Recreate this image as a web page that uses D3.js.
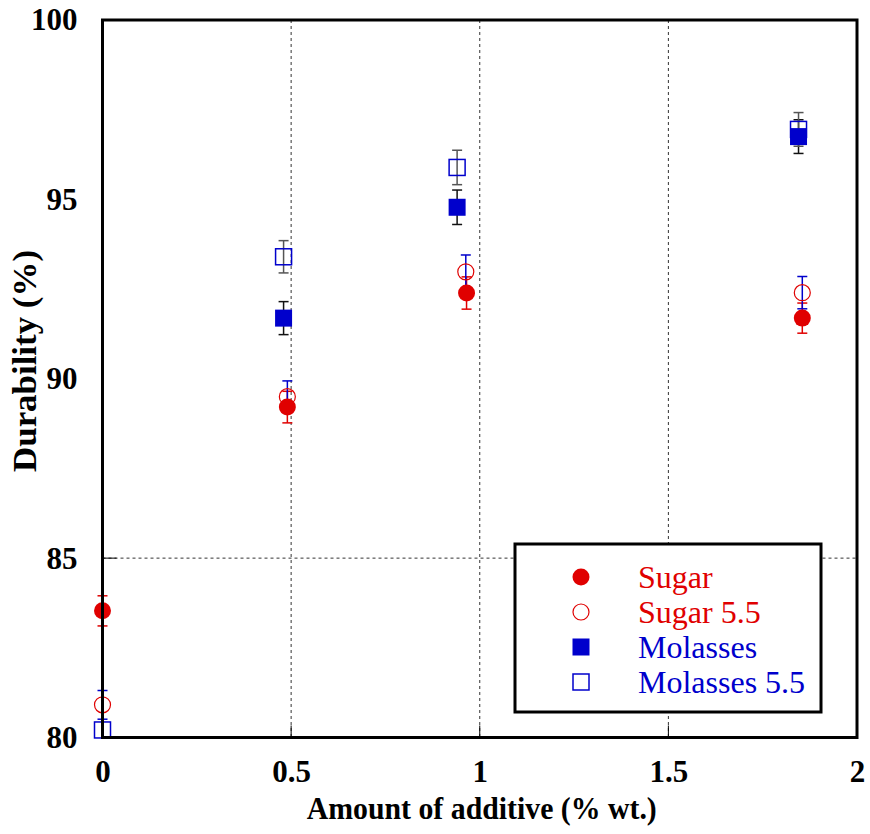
<!DOCTYPE html>
<html><head><meta charset="utf-8">
<script src="https://cdn.jsdelivr.net/npm/d3@7"></script>
<style>body{margin:0;background:#fff}svg{display:block}</style>
</head><body>
<svg id="c" width="870" height="834"></svg>
<script>
// ---- data ----
const sugarX = [0, 0.49, 0.965, 1.855];
const sugarY = [83.53, 89.21, 92.39, 91.69];
const sugarErr = [0.42, 0.44, 0.45, 0.42];

const sugar55X = [0, 0.49, 0.963, 1.855];
const sugar55Y = [80.91, 89.50, 92.98, 92.40];
const sugar55Err = [0.40, 0.44, 0.47, 0.45];

const molassesX = [0.48, 0.94, 1.845];
const molassesY = [91.69, 94.78, 96.75];
const molassesErr = [0.46, 0.48, 0.47];

const molasses55X = [0, 0.48, 0.94, 1.845];
const molasses55Y = [80.21, 93.40, 95.89, 96.95];
const molasses55Err = [null, 0.45, 0.48, 0.47];

const xTicks = [0, 0.5, 1, 1.5, 2];
const xTickLabels = ["0", "0.5", "1", "1.5", "2"];
const yTicks = [80, 85, 90, 95, 100];
const xGrid = [0.5, 1, 1.5];
const yGrid = [85];

const seriesNames = ["Sugar", "Sugar 5.5", "Molasses", "Molasses 5.5"];

// ---- layout ----
const svg = d3.select("#c");
const L = 102.5, R = 857, T = 20, B = 737.5;
const x = d3.scaleLinear().domain([0, 2]).range([L, R]);
const y = d3.scaleLinear().domain([80, 100]).range([B, T]);
const RED = "#e00000", BLUE = "#0000cc";
const FONT = '"Liberation Serif"';

const series = [
  {name: seriesNames[0], xs: sugarX, ys: sugarY, err: sugarErr, shape: "circle", filled: true, color: RED, errColor: RED},
  {name: seriesNames[1], xs: sugar55X, ys: sugar55Y, err: sugar55Err, shape: "circle", filled: false, color: RED, errColor: BLUE},
  {name: seriesNames[2], xs: molassesX, ys: molassesY, err: molassesErr, shape: "square", filled: true, color: BLUE, errColor: "#111"},
  {name: seriesNames[3], xs: molasses55X, ys: molasses55Y, err: molasses55Err, shape: "square", filled: false, color: BLUE, errColor: "#555"}
];

// grid
const g = svg.append("g");
g.selectAll("line.vg").data(xGrid).join("line")
  .attr("x1", d => x(d)).attr("x2", d => x(d)).attr("y1", T).attr("y2", B)
  .attr("stroke", "#333").attr("stroke-width", 1).attr("stroke-dasharray", "3,3");
g.selectAll("line.hg").data(yGrid).join("line")
  .attr("x1", L).attr("x2", R).attr("y1", d => y(d)).attr("y2", d => y(d))
  .attr("stroke", "#333").attr("stroke-width", 1).attr("stroke-dasharray", "3,3");
g.selectAll("line.vt").data(xGrid).join("line")
  .attr("x1", d => x(d)).attr("x2", d => x(d)).attr("y1", B).attr("y2", B - 12)
  .attr("stroke", "#000").attr("stroke-width", 1);
g.selectAll("line.ht").data(yGrid).join("line")
  .attr("x1", L).attr("x2", L + 14).attr("y1", d => y(d)).attr("y2", d => y(d))
  .attr("stroke", "#000").attr("stroke-width", 1);

// axes labels
svg.append("g").attr("transform", `translate(0,${B})`)
  .call(d3.axisBottom(x).tickValues(xTicks).tickFormat((d, i) => xTickLabels[i]).tickSize(0).tickPadding(22))
  .call(a => a.select(".domain").remove())
  .selectAll("text").style("font-family", FONT).style("font-size", "31px").style("font-weight", "bold").attr("fill", "#000");
svg.append("g").attr("transform", `translate(${L},0)`)
  .call(d3.axisLeft(y).tickValues(yTicks).tickFormat(d3.format("d")).tickSize(0).tickPadding(25))
  .call(a => a.select(".domain").remove())
  .selectAll("text").style("font-family", FONT).style("font-size", "31px").style("font-weight", "bold").attr("fill", "#000");

svg.append("text").attr("x", (L + R) / 2 + 2).attr("y", 819).attr("text-anchor", "middle")
  .style("font-family", FONT).style("font-size", "32px").style("font-weight", "bold")
  .attr("textLength", 350).attr("lengthAdjust", "spacingAndGlyphs")
  .text("Amount of additive (% wt.)");
svg.append("text").attr("transform", "translate(36,361) rotate(-90)").attr("text-anchor", "middle")
  .style("font-family", FONT).style("font-size", "34px").style("font-weight", "bold")
  .attr("textLength", 222).attr("lengthAdjust", "spacingAndGlyphs")
  .text("Durability (%)");

// error bars + markers
const cap = 5;
series.forEach(s => {
  const gs = svg.append("g");
  s.xs.forEach((xv, i) => {
    const e = s.err[i];
    if (e == null) return;
    const px = x(xv), y1 = y(s.ys[i] + e), y2 = y(s.ys[i] - e);
    gs.append("line").attr("x1", px).attr("x2", px).attr("y1", y1).attr("y2", y2)
      .attr("stroke", s.errColor).attr("stroke-width", 1.5);
    [y1, y2].forEach(yy => gs.append("line").attr("x1", px - cap).attr("x2", px + cap)
      .attr("y1", yy).attr("y2", yy).attr("stroke", s.errColor).attr("stroke-width", 1.5));
  });
});
function drawMarker(sel, shape, filled, color, cx, cy) {
  if (shape === "circle") {
    sel.append("circle").attr("cx", cx).attr("cy", cy).attr("r", filled ? 8.5 : 8)
      .attr("fill", filled ? color : "none").attr("stroke", color).attr("stroke-width", filled ? 0 : 1.2);
  } else {
    const h = filled ? 8.5 : 8;
    sel.append("rect").attr("x", cx - h).attr("y", cy - h).attr("width", 2 * h).attr("height", 2 * h)
      .attr("fill", filled ? color : "none").attr("stroke", color).attr("stroke-width", filled ? 0 : 1.5);
  }
}
series.forEach(s => {
  const gs = svg.append("g");
  s.xs.forEach((xv, i) => drawMarker(gs, s.shape, s.filled, s.color, x(xv), y(s.ys[i])));
});

// frame
svg.append("rect").attr("x", L).attr("y", T).attr("width", R - L).attr("height", B - T)
  .attr("fill", "none").attr("stroke", "#000").attr("stroke-width", 3);

// legend
const lg = svg.append("g");
lg.append("rect").attr("x", 515).attr("y", 544).attr("width", 306).attr("height", 168)
  .attr("fill", "#fff").attr("stroke", "#000").attr("stroke-width", 3);
series.forEach((s, i) => {
  const cy = 577 + i * 35;
  drawMarker(lg, s.shape, s.filled, s.color, 581, cy);
  lg.append("text").attr("x", 638).attr("y", cy + 11)
    .style("font-family", FONT).style("font-size", "32px")
    .attr("fill", s.color).text(s.name);
});
</script>
</body></html>
